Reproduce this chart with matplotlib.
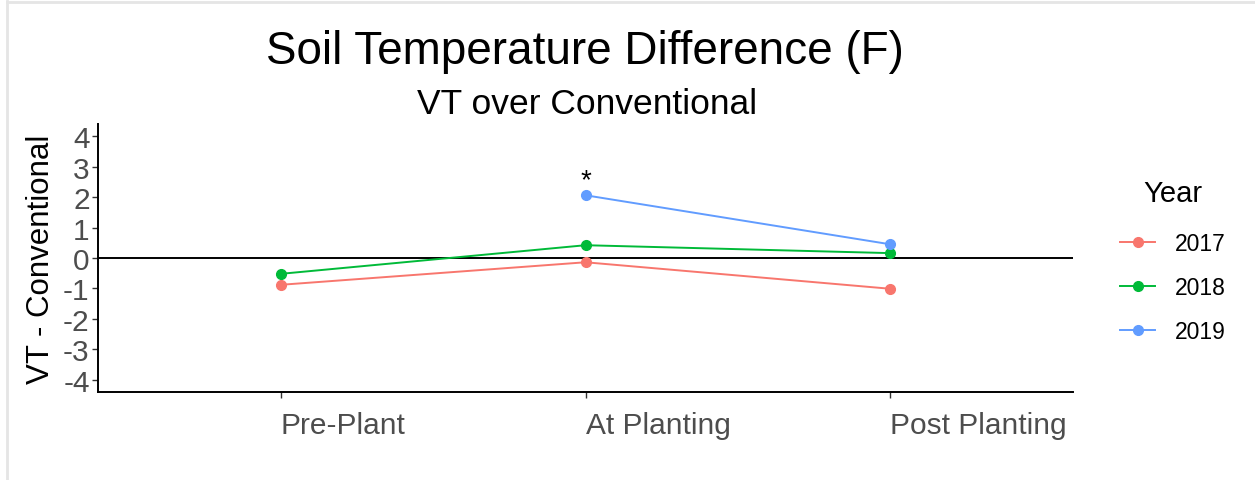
import matplotlib
matplotlib.use("Agg")
import matplotlib.pyplot as plt
from matplotlib.lines import Line2D

plt.rcParams['font.family'] = ['Liberation Sans', 'DejaVu Sans']

stages = ["Pre-Plant", "At Planting", "Post Planting"]
years = ["2017", "2018", "2019"]
colors = ["#F8766D", "#00BA38", "#619CFF"]
# values per year (None = missing)
v2017 = [-0.88, -0.14, -1.01]
v2018 = [-0.52, 0.42, 0.16]
v2019 = [None, 2.06, 0.45]
series = [v2017, v2018, v2019]
yticks = [-4, -3, -2, -1, 0, 1, 2, 3, 4]
star_stage = 1
star_value = 2.55

W, H = 1255, 481
fig = plt.figure(figsize=(W / 100, H / 100), dpi=100)
ax = fig.add_axes([98 / W, 88 / H, (1073 - 98) / W, (393 - 125) / H])

ax.axhline(0, color="black", lw=1.4, zorder=1)
for name, vals, c in zip(years, series, colors):
    xs = [i + 1 for i, v in enumerate(vals) if v is not None]
    ys = [v for v in vals if v is not None]
    ax.plot(xs, ys, color=c, lw=1.4, marker="o", ms=7, label=name, zorder=3)

ax.text(star_stage + 1, star_value, "*", ha="center", va="center", fontsize=20, color="black")

ax.set_xlim(0.4, 3.6)
ax.set_ylim(-4.4, 4.4)
ax.set_xticks([1, 2, 3])
ax.set_xticklabels(stages, ha="left")
ax.set_yticks(yticks)
ax.set_yticklabels([str(t) for t in yticks])
ax.tick_params(axis="both", colors="#333333", labelcolor="#4D4D4D", labelsize=21.5,
               length=4, width=1)
ax.tick_params(axis="x", pad=10)
ax.tick_params(axis="y", pad=2)
for s in ["top", "right"]:
    ax.spines[s].set_visible(False)
for s in ["left", "bottom"]:
    ax.spines[s].set_linewidth(1.4)
    ax.spines[s].set_color("black")

ax.set_ylabel("VT - Conventional", fontsize=22.5, color="black", labelpad=5)

fig.text(585 / W, 1 - 52 / H, "Soil Temperature Difference (F)", ha="center", va="center",
         fontsize=33, color="black")
fig.text(587 / W, 1 - 104 / H, "VT over Conventional", ha="center", va="center",
         fontsize=25.5, color="black")

leg = ax.legend(title="Year", loc="center left", bbox_to_anchor=(1.027, 0.49), frameon=False,
                fontsize=16.5, title_fontsize=21, handlelength=1.55, labelspacing=0.92,
                handletextpad=0.85)
leg._legend_box.align = "center"
leg._legend_box.sep = 18

fig.add_artist(Line2D([7 / W, 7 / W], [0, 1 - 2 / H], color="#E5E5E5", lw=2))
fig.add_artist(Line2D([7 / W, 1], [1 - 3 / H, 1 - 3 / H], color="#E5E5E5", lw=2))

fig.savefig("out.png", dpi=100)
